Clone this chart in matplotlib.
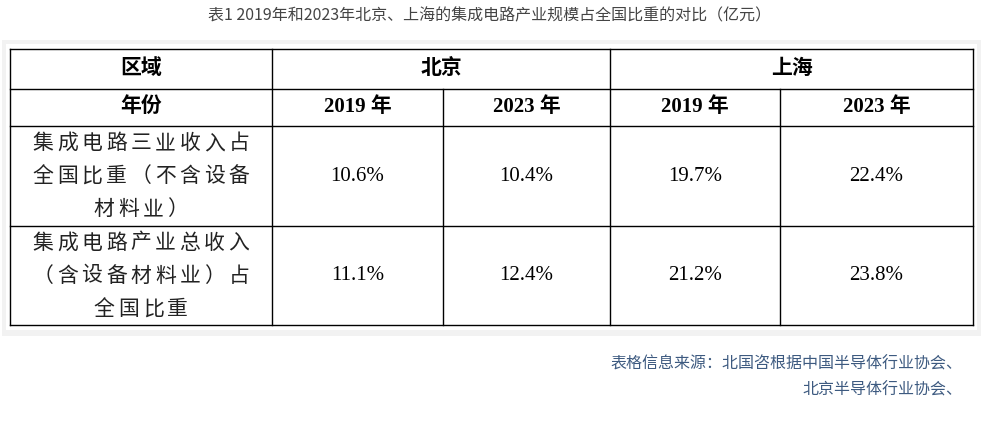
import matplotlib.pyplot as plt
from matplotlib.patches import Rectangle

plt.rcParams['font.family'] = ['Noto Sans CJK SC', 'DejaVu Sans']

title = '表1 2019年和2023年北京、上海的集成电路产业规模占全国比重的对比（亿元）'
regions = ['北京', '上海']
years = ['2019 年', '2023 年', '2019 年', '2023 年']
row_labels = [['集成电路三业收入占', '全国比重（不含设备', '材料业）'],
              ['集成电路产业总收入', '（含设备材料业）占', '全国比重']]
values = [['10.6%', '10.4%', '19.7%', '22.4%'],
          ['11.1%', '12.4%', '21.2%', '23.8%']]
source = ['表格信息来源：北国咨根据中国半导体行业协会、', '北京半导体行业协会、']

fig = plt.figure(figsize=(9.81, 4.36), dpi=100)
ax = fig.add_axes([0, 0, 1, 1])
ax.set_xlim(0, 981)
ax.set_ylim(436, 0)
ax.axis('off')

ax.text(490, 16, title, ha='center', va='center', fontsize=11.5, color='#444444')

# shadow card
ax.add_patch(Rectangle((2, 40), 979, 296, facecolor='#f2f2f2', edgecolor='none'))
ax.add_patch(Rectangle((6, 44), 971, 286, facecolor='white', edgecolor='none'))

xs = [10, 272, 443, 610, 780, 973]
ys = [49, 89, 126, 226, 325]
lw = 1.0
for y in ys:
    ax.plot([xs[0], xs[-1]], [y, y], color='black', lw=lw)
for x in [xs[0], xs[1], xs[3], xs[-1]]:
    ax.plot([x, x], [ys[0], ys[-1]], color='black', lw=lw)
for x in [xs[2], xs[4]]:
    ax.plot([x, x], [ys[1], ys[-1]], color='black', lw=lw)

bold = dict(fontsize=15, fontweight='bold', ha='center', va='center',
            family=['Liberation Serif', 'Noto Sans CJK SC'])
ax.text((xs[0] + xs[1]) / 2, 69, '区域', **bold)
ax.text((xs[1] + xs[3]) / 2, 69, regions[0], **bold)
ax.text((xs[3] + xs[5]) / 2, 69, regions[1], **bold)
ax.text((xs[0] + xs[1]) / 2, 107, '年份', **bold)
for i, yr in enumerate(years):
    ax.text((xs[i + 1] + xs[i + 2]) / 2, 107, yr, **bold)

pitch = 24.5
for r, lines in enumerate(row_labels):
    yc = (ys[r + 2] + ys[r + 3]) / 2
    for k, line in enumerate(lines):
        y = yc + (k - 1) * 33
        x0 = (xs[0] + xs[1]) / 2 - pitch * (len(line) - 1) / 2
        for j, ch in enumerate(line):
            ax.text(x0 + j * pitch, y, ch, ha='center', va='center',
                    fontsize=15, color='#222222')
    for c, v in enumerate(values[r]):
        ax.text((xs[c + 1] + xs[c + 2]) / 2, yc, v, ha='center', va='center',
                fontsize=15, family=['Liberation Serif'])

ax.text(962, 364, source[0], ha='right', va='center', fontsize=11.5, color='#3d5a80')
ax.text(962, 390, source[1], ha='right', va='center', fontsize=11.5, color='#3d5a80')

fig.savefig('out.png', dpi=100)
